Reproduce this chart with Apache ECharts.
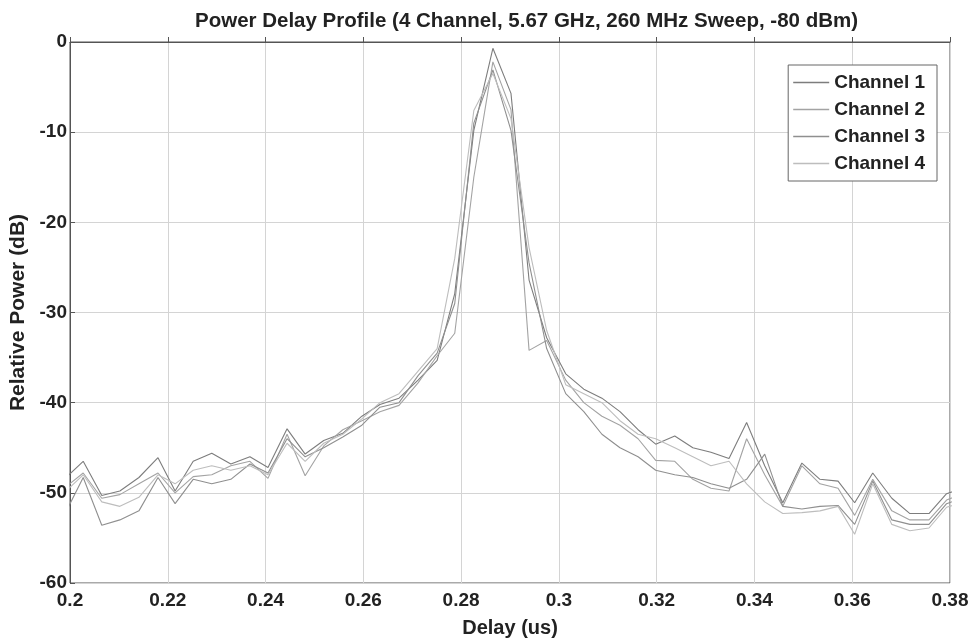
<!DOCTYPE html>
<html>
<head>
<meta charset="utf-8">
<script src="https://cdn.jsdelivr.net/npm/echarts@6/dist/echarts.min.js"></script>
<style>
html,body{margin:0;padding:0;background:#fff;}
#chart{width:978px;height:643px;}
</style>
</head>
<body>
<div id="chart"></div>
<script>
// Delay samples (us)
const delays = [0.1988,0.2027,0.2065,0.2102,0.2141,0.2180,0.2215,0.2252,0.2290,0.2329,
  0.2368,0.2405,0.2444,0.2481,0.2519,0.2558,0.2597,0.2634,0.2673,0.2712,
  0.2751,0.2787,0.2826,0.2865,0.2902,0.2939,0.2975,0.3014,0.3051,0.3088,
  0.3125,0.3162,0.3198,0.3237,0.3274,0.3311,0.3348,0.3384,0.3421,0.3458,
  0.3497,0.3534,0.3571,0.3605,0.3642,0.3681,0.3718,0.3757,0.3793,0.3830];

const channel1 = [-48.5,-46.5,-50.3,-49.8,-48.3,-46.1,-49.8,-46.5,-45.6,-46.8,
  -46.0,-47.2,-42.9,-45.7,-44.2,-43.4,-41.5,-40.2,-39.5,-37.5,
  -35.3,-27.9,-9.8,-0.7,-5.7,-26.4,-32.8,-36.8,-38.5,-39.5,
  -41.0,-43.0,-44.6,-43.7,-45.0,-45.5,-46.2,-42.2,-47.0,-51.1,
  -46.7,-48.5,-48.7,-51.1,-47.8,-50.6,-52.3,-52.3,-50.1,-49.4];
const channel2 = [-49.5,-47.8,-50.6,-50.2,-49.0,-47.8,-50.0,-48.2,-48.0,-47.0,
  -46.5,-48.4,-43.5,-48.1,-44.8,-43.0,-42.0,-41.0,-40.3,-37.8,
  -34.8,-32.3,-15.0,-2.2,-7.5,-34.2,-33.1,-37.5,-40.0,-41.5,
  -42.5,-44.0,-46.4,-46.5,-48.5,-49.5,-49.8,-44.0,-48.0,-51.5,
  -47.0,-49.0,-49.5,-52.5,-48.5,-52.0,-53.0,-53.0,-50.8,-50.0];
const channel3 = [-52.5,-48.3,-53.6,-53.0,-52.0,-48.3,-51.2,-48.5,-49.0,-48.5,
  -46.8,-47.8,-44.0,-46.0,-45.0,-43.8,-42.5,-40.5,-40.0,-37.0,
  -34.5,-29.0,-9.0,-3.1,-9.8,-24.5,-34.0,-39.0,-41.0,-43.5,
  -45.0,-46.0,-47.5,-48.0,-48.3,-49.0,-49.5,-48.5,-45.7,-51.5,
  -51.8,-51.5,-51.4,-53.5,-48.7,-53.0,-53.5,-53.5,-51.2,-50.5];
const channel4 = [-50.0,-48.0,-51.0,-51.5,-50.5,-48.0,-49.0,-47.5,-47.0,-47.5,
  -47.0,-48.0,-44.5,-46.5,-44.5,-43.5,-41.8,-40.0,-39.0,-36.5,
  -34.0,-24.0,-7.6,-3.5,-8.5,-22.8,-32.0,-38.0,-39.0,-40.0,
  -42.0,-43.5,-44.0,-45.0,-46.0,-47.0,-46.5,-49.0,-51.0,-52.3,
  -52.2,-52.0,-51.5,-54.6,-49.0,-53.5,-54.2,-53.9,-51.6,-51.0];

const xTicks = [0.2,0.22,0.24,0.26,0.28,0.3,0.32,0.34,0.36,0.38];
const yTicks = [-60,-50,-40,-30,-20,-10,0];
const seriesNames = ['Channel 1','Channel 2','Channel 3','Channel 4'];
const seriesValues = [channel1, channel2, channel3, channel4];
const seriesColors = ['#7d7d7d','#a3a3a3','#8f8f8f','#bdbdbd'];

const FONT = '"Liberation Sans", Arial, sans-serif';
const chart = echarts.init(document.getElementById('chart'));
chart.setOption({
  backgroundColor: '#ffffff',
  animation: false,
  title: {
    text: 'Power Delay Profile (4 Channel, 5.67 GHz, 260 MHz Sweep, -80 dBm)',
    left: 190, top: 6,
    textStyle: {fontFamily: FONT, fontWeight: 'bold', fontSize: 20.5, color: '#222'}
  },
  legend: {
    orient: 'vertical', right: 41, top: 65,
    icon: 'rect', itemWidth: 36, itemHeight: 1.5, itemGap: 8,
    padding: [8, 12, 8, 5],
    backgroundColor: '#fff', borderColor: '#666', borderWidth: 1,
    textStyle: {fontFamily: FONT, fontWeight: 'bold', fontSize: 19, color: '#222'},
    data: seriesNames
  },
  grid: {left: 70, right: 28, top: 42, bottom: 60, show: true, borderColor: '#555', borderWidth: 1,
    containLabel: false, outerBoundsMode: 'none'},
  xAxis: {
    type: 'value', min: xTicks[0], max: xTicks[xTicks.length-1], interval: 0.02,
    name: 'Delay (us)', nameLocation: 'middle', nameGap: 35,
    nameTextStyle: {fontFamily: FONT, fontWeight: 'bold', fontSize: 20, color: '#222'},
    axisLine: {lineStyle: {color: '#555'}},
    axisTick: {inside: true, length: 5, lineStyle: {color: '#555'}},
    axisLabel: {fontFamily: FONT, fontWeight: 'bold', fontSize: 19, color: '#222', margin: 8,
      formatter: v => String(+v.toFixed(2))},
    splitLine: {show: true, lineStyle: {color: '#d4d4d4', width: 1}}
  },
  yAxis: {
    type: 'value', min: yTicks[0], max: yTicks[yTicks.length-1], interval: 10,
    name: 'Relative Power (dB)', nameLocation: 'middle', nameGap: 41,
    nameTextStyle: {fontFamily: FONT, fontWeight: 'bold', fontSize: 21, color: '#222'},
    axisLine: {show: true, lineStyle: {color: '#555'}},
    axisTick: {show: true, inside: true, length: 5, lineStyle: {color: '#555'}},
    axisLabel: {fontFamily: FONT, fontWeight: 'bold', fontSize: 19, color: '#222', margin: 3},
    splitLine: {show: true, lineStyle: {color: '#d4d4d4', width: 1}}
  },
  series: seriesNames.map((n, i) => ({
    name: n, type: 'line', symbol: 'none', clip: true,
    lineStyle: {width: 1.1, color: seriesColors[i]},
    itemStyle: {color: seriesColors[i]},
    data: delays.map((d, j) => [d, seriesValues[i][j]])
  }))
});
</script>
</body>
</html>
